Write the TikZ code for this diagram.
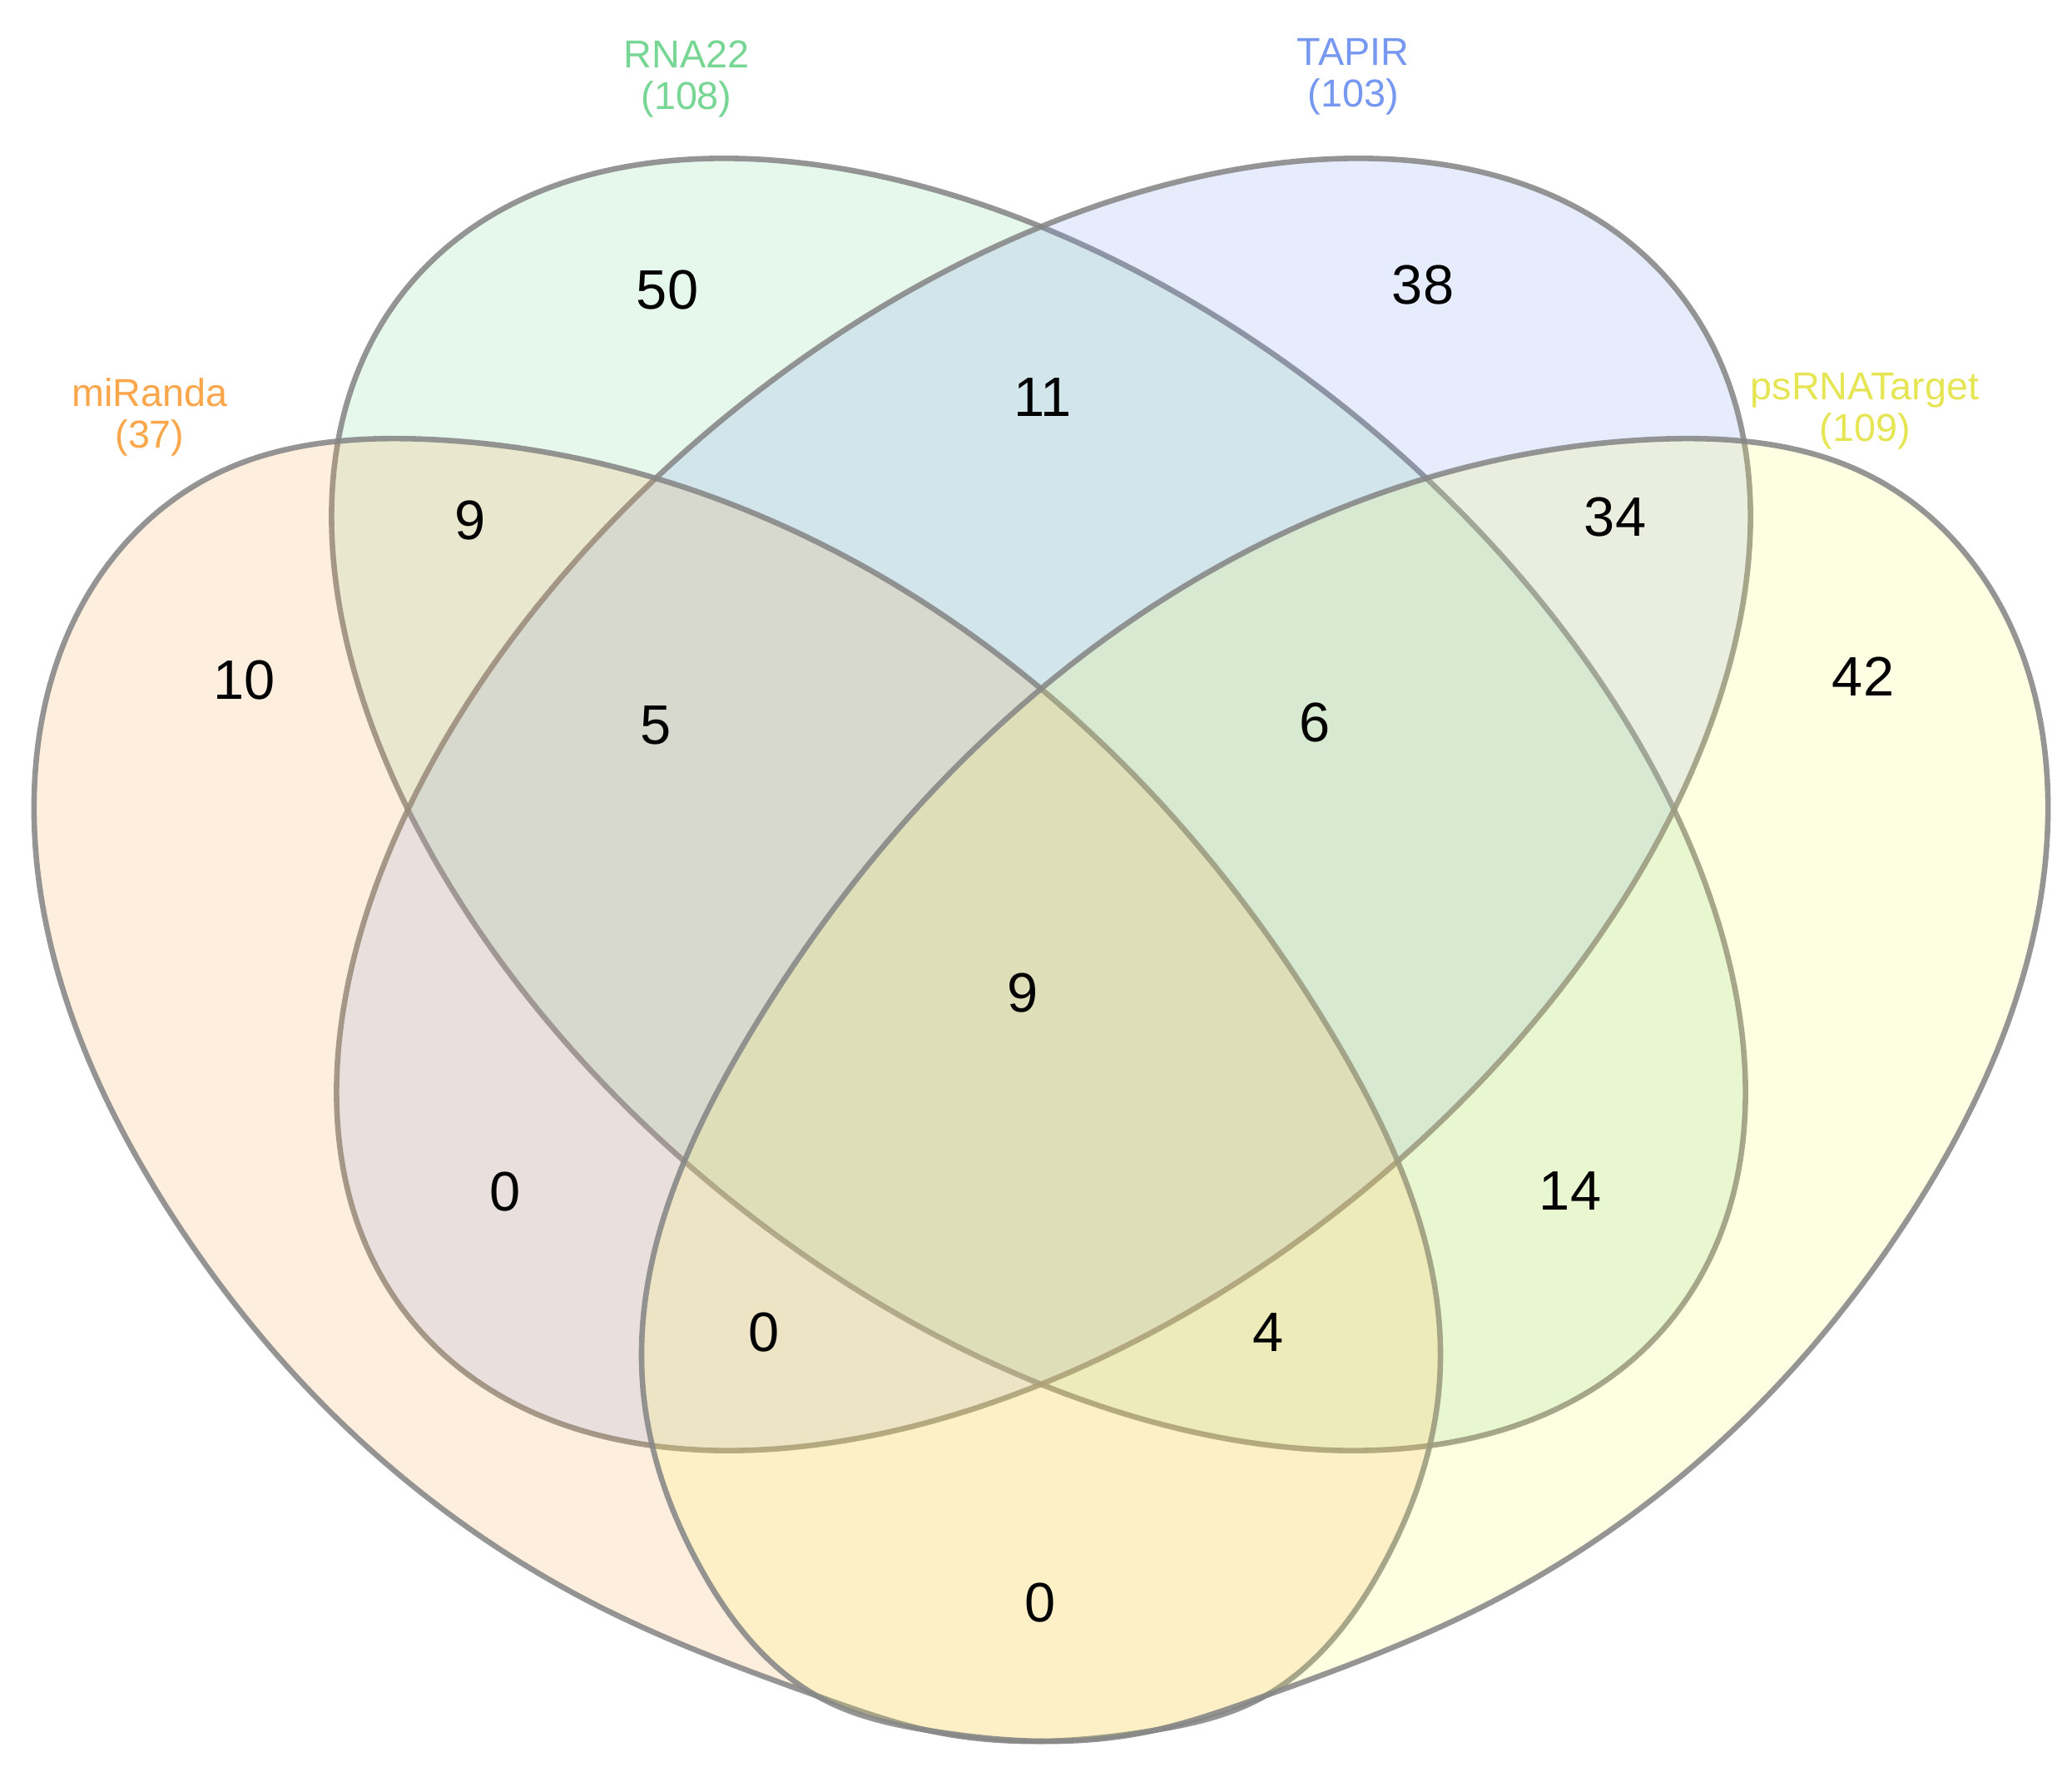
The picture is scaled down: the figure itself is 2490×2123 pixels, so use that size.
\documentclass[tikz,border=0pt]{standalone}
\usepackage{fontspec}
\setmainfont{Liberation Sans}
\usetikzlibrary{hobby}
\definecolor{cmir}{RGB}{250,166,75}
\definecolor{crna}{RGB}{120,214,148}
\definecolor{ctap}{RGB}{118,152,240}
\definecolor{cps}{RGB}{230,230,85}
\definecolor{cpsfill}{RGB}{252,252,95}
\definecolor{linegray}{RGB}{135,135,135}
\begin{document}
\begin{tikzpicture}[x=0.1mm,y=-0.1mm,
  setshape/.style={line width=0.66mm, draw=linegray, draw opacity=0.88, fill opacity=0.18},
  num/.style={font=\fontsize{19}{22}\selectfont, text=black, inner sep=0pt},
  setlabel/.style={font=\fontsize{13.3}{14.2}\selectfont, align=center, inner sep=0pt}]
\fill[white] (0,0) rectangle (2490,2123);
\useasboundingbox (0,0) rectangle (2490,2123);

% RNA22 ellipse
\path[setshape, fill=crna, rotate around={-39.3:(1248,967)}]
  (1248,967) ellipse [x radius=98.07mm, y radius=60.25mm];
% TAPIR ellipse
\path[setshape, fill=ctap, rotate around={39.3:(1254,967)}]
  (1254,967) ellipse [x radius=98.07mm, y radius=60.25mm];
% miRanda egg
\path[setshape, fill=cmir, use Hobby shortcut, closed=true]
  (512,528) .. (785,574) .. (1251,828) .. (1605,1250)
  .. (1730,1660) .. (1660,1885) .. (1512,2043) .. (1380,2081) .. (1251,2093) .. (1120,2081) .. (989,2041)
  .. (714,1928) .. (408,1708) .. (206,1460) .. (79,1200) .. (41,959) .. (97,730) .. (255,572);
% psRNATarget egg (mirror image)
\path[setshape, fill=cpsfill, use Hobby shortcut, closed=true]
  (1990,528) .. (1717,574) .. (1251,828) .. (897,1250)
  .. (772,1660) .. (842,1885) .. (990,2043) .. (1122,2081) .. (1251,2093) .. (1382,2081) .. (1513,2041)
  .. (1788,1928) .. (2094,1708) .. (2296,1460) .. (2423,1200) .. (2461,959) .. (2405,730) .. (2247,572);

% set labels
\node[setlabel, text=crna] (lrna) at (825,95) {RNA22\\(108)};
\node[setlabel, text=ctap] (ltap) at (1626,92) {TAPIR\\(103)};
\node[setlabel, text=cmir] (lmir) at (180,501) {miRanda\\(37)};
\node[setlabel, text=cps] (lps) at (2241,494) {psRNATarget\\(109)};

% counts
\node[num] (n50) at (802,349) {50};
\node[num] (n38) at (1710,343) {38};
\node[num] (n11) at (1253,478) {11};
\node[num] (n9a) at (565,626) {9};
\node[num] (n34) at (1941,622) {34};
\node[num] (n10) at (294,818) {10};
\node[num] (n42) at (2239,813) {42};
\node[num] (n5) at (788,872) {5};
\node[num] (n6) at (1580,869) {6};
\node[num] (n9b) at (1229,1193) {9};
\node[num] (n0a) at (607,1432) {0};
\node[num] (n14) at (1887,1432) {14};
\node[num] (n0b) at (918,1601) {0};
\node[num] (n4) at (1524,1602) {4};
\node[num] (n0c) at (1250,1926) {0};
\end{tikzpicture}
\end{document}
